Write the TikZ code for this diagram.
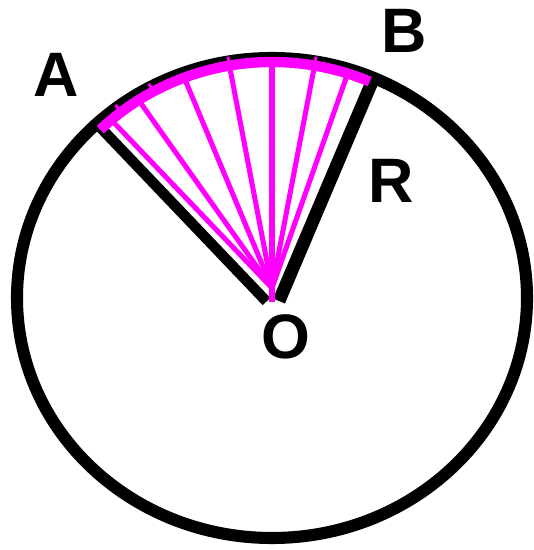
\documentclass[tikz,border=0pt]{standalone}
\usepackage{fontspec}
\setmainfont{Liberation Sans}
\usepackage{tikz}
\usetikzlibrary{positioning,calc}
\definecolor{pinkarc}{RGB}{255,0,255}
\tikzset{
  lbl/.style={inner sep=0pt,font=\fontsize{53.6}{60}\selectfont\bfseries},
  rim/.style={line width=10.3pt},
  radius line/.style={line width=#1},
  spoke/.style={pinkarc,line width=4.3pt},
  band/.style={pinkarc,line width=8.8pt}
}
\begin{document}
\begin{tikzpicture}[x=0.03cm,y=0.03cm]
  % circle radii 255 x 240, pink arc radii 245 x 236
  \useasboundingbox (0,0) rectangle (534,550);

  \coordinate (O) at (272,252);   % centre
  \coordinate (T) at (272,262);   % where the spokes meet
  \coordinate (A) at (98,425);
  \coordinate (B) at (372,468);

  % Draw the circle
  \draw[rim] (O) ellipse [x radius=255, y radius=240];

  % Draw the two radii
  \draw[radius line=9pt] (A) -- (266.5,248.5);
  \draw[radius line=11pt] (B) -- (279,249);

  % Draw the spokes of the sector
  \foreach \a in {131,123,111,100,90,80,72} {
    \draw[spoke] (T) -- ($(O)+(\a:245 and 236)$);
  }
  \draw[pinkarc,line width=5pt] (T) -- (272,248);
  % Draw the arc AB
  \draw[band] ($(O)+(134.5:245 and 236)$) arc [start angle=134.5, end angle=66.5, x radius=245, y radius=236];
  % small ticks on the arc
  \foreach \a in {128,119,100,80} {
    \draw[pinkarc,line width=2.5pt] ($(O)+(\a:243 and 234)$) -- ($(O)+(\a:254 and 245)$);
  }

  \node[lbl] (la) at (56.5,475) {A};
  \node[lbl] (lb) at (404,519) {B};
  \node[lbl] (lr) at (391,369) {R};
  \node[lbl] (lo) at (285.5,213) {O};

\end{tikzpicture}
\end{document}
